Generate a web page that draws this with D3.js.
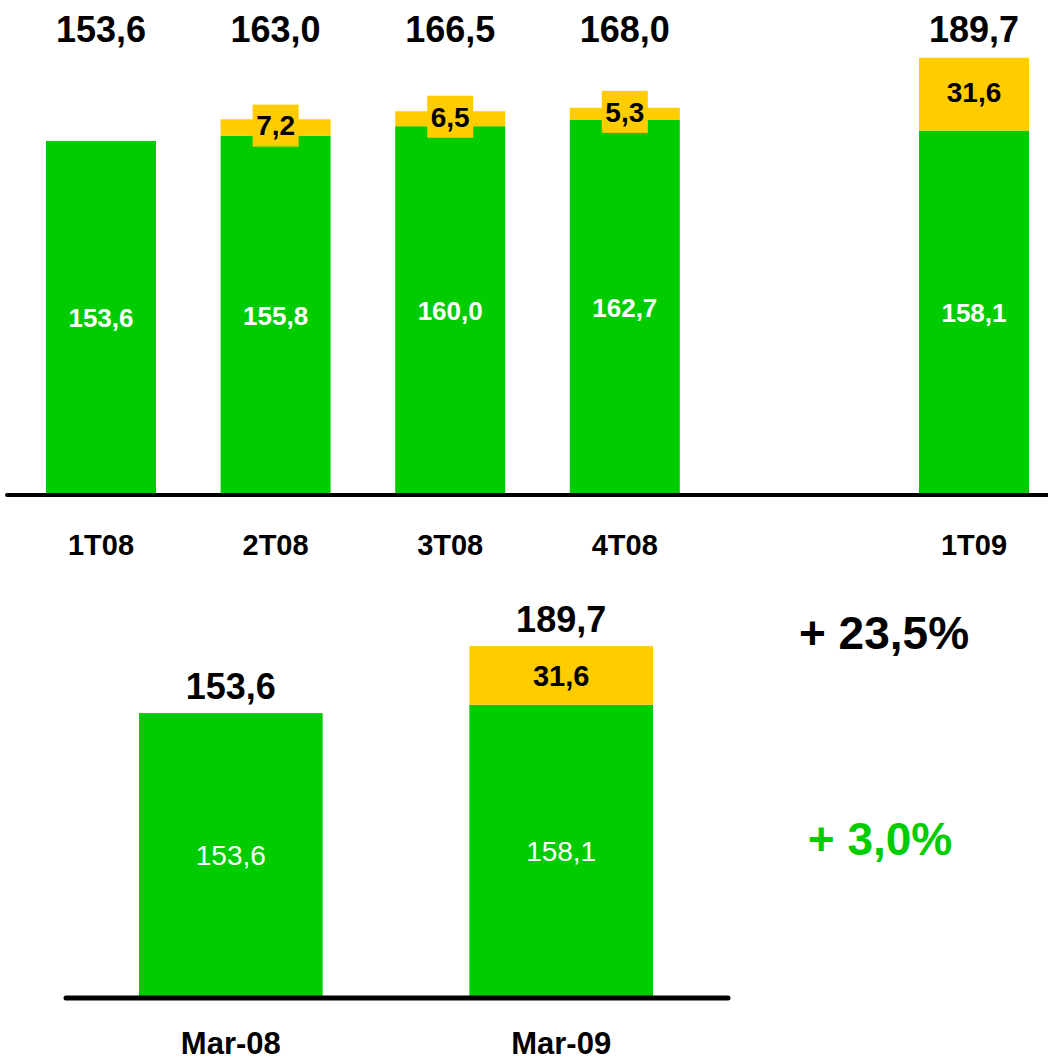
<!DOCTYPE html>
<html><head><meta charset="utf-8">
<script src="https://cdn.jsdelivr.net/npm/d3@7"></script>
<style>
html,body{margin:0;padding:0;background:#fff;}
svg{display:block;font-family:"Liberation Sans",Arial,sans-serif;}
</style></head>
<body>
<svg id="chart" width="1048" height="1061"></svg>
<script>
// ---- data ----
const categoriesTop = ["1T08", "2T08", "3T08", "4T08", "1T09"];
const slotsTop = ["1T08", "2T08", "3T08", "4T08", "gap", "1T09"];
const baseTop = [153.6, 155.8, 160.0, 162.7, 158.1];
const extraTop = [0, 7.2, 6.5, 5.3, 31.6];
const totalTop = [153.6, 163.0, 166.5, 168.0, 189.7];

const categoriesBottom = ["Mar-08", "Mar-09"];
const baseBottom = [153.6, 158.1];
const extraBottom = [0, 31.6];
const totalBottom = [153.6, 189.7];

const growthLabels = ["+ 23,5%", "+ 3,0%"];

(function () {
// ---- styles ----
const GREEN = "#00CC00", YELLOW = "#FFCC00";
const loc = d3.formatLocale({decimal: ",", thousands: ".", grouping: [3], currency: ["", ""]});
const fmt = loc.format(".1f");

const svg = d3.select("#chart");

// ================= TOP PANEL =================
const xTop = d3.scaleBand().domain(slotsTop).range([46, 1029]).paddingInner(0.37).paddingOuter(0);
const yTop = d3.scaleLinear().domain([0, 200]).range([495, 34]);
const gTop = svg.append("g");

const topData = categoriesTop.map((c, i) => ({c, base: baseTop[i], extra: extraTop[i], total: totalTop[i]}));

gTop.selectAll("rect.g").data(topData).join("rect")
  .attr("x", d => xTop(d.c)).attr("width", xTop.bandwidth())
  .attr("y", d => yTop(d.base)).attr("height", d => yTop(0) - yTop(d.base))
  .attr("fill", GREEN);
gTop.selectAll("rect.y").data(topData.filter(d => d.extra > 0)).join("rect")
  .attr("x", d => xTop(d.c)).attr("width", xTop.bandwidth())
  .attr("y", d => yTop(d.base + d.extra)).attr("height", d => yTop(d.base) - yTop(d.base + d.extra))
  .attr("fill", YELLOW);

gTop.append("line").attr("x1", 7).attr("x2", 1048).attr("y1", yTop(0)).attr("y2", yTop(0))
  .attr("stroke", "#000").attr("stroke-width", 4).attr("stroke-linecap", "round");

gTop.selectAll("text.in").data(topData).join("text")
  .attr("x", d => xTop(d.c) + xTop.bandwidth() / 2)
  .attr("y", d => (yTop(0) + yTop(d.base)) / 2)
  .attr("dy", "0.35em").attr("text-anchor", "middle")
  .attr("fill", "#fff").attr("font-weight", "bold").attr("font-size", 26)
  .text(d => fmt(d.base));

const yl = gTop.selectAll("g.yl").data(topData.filter(d => d.extra > 0)).join("g")
  .attr("transform", d => `translate(${xTop(d.c) + xTop.bandwidth() / 2},${(yTop(d.base) + yTop(d.base + d.extra)) / 2 - 2})`);
yl.append("rect").attr("x", -23).attr("y", -21).attr("width", 46).attr("height", 42).attr("fill", YELLOW);
yl.append("text").attr("dy", "0.35em").attr("text-anchor", "middle")
  .attr("font-weight", "bold").attr("font-size", 28).attr("fill", "#000")
  .text(d => fmt(d.extra));

gTop.selectAll("text.tot").data(topData).join("text")
  .attr("x", d => xTop(d.c) + xTop.bandwidth() / 2).attr("y", 42)
  .attr("text-anchor", "middle").attr("font-weight", "bold").attr("font-size", 36)
  .text(d => fmt(d.total));

gTop.selectAll("text.cat").data(topData).join("text")
  .attr("x", d => xTop(d.c) + xTop.bandwidth() / 2).attr("y", 555)
  .attr("text-anchor", "middle").attr("font-weight", "bold").attr("font-size", 29)
  .text(d => d.c);

// ================= BOTTOM PANEL =================
const xBot = d3.scaleBand().domain(categoriesBottom).range([139, 653]).paddingInner(0.444).paddingOuter(0);
const yBot = d3.scaleLinear().domain([0, 200]).range([998, 627]);
const gBot = svg.append("g");
const botData = categoriesBottom.map((c, i) => ({c, base: baseBottom[i], extra: extraBottom[i], total: totalBottom[i]}));

gBot.selectAll("rect.g").data(botData).join("rect")
  .attr("x", d => xBot(d.c)).attr("width", xBot.bandwidth())
  .attr("y", d => yBot(d.base)).attr("height", d => yBot(0) - yBot(d.base))
  .attr("fill", GREEN);
gBot.selectAll("rect.y").data(botData.filter(d => d.extra > 0)).join("rect")
  .attr("x", d => xBot(d.c)).attr("width", xBot.bandwidth())
  .attr("y", d => yBot(d.base + d.extra)).attr("height", d => yBot(d.base) - yBot(d.base + d.extra))
  .attr("fill", YELLOW);

gBot.append("line").attr("x1", 66).attr("x2", 728).attr("y1", yBot(0)).attr("y2", yBot(0))
  .attr("stroke", "#000").attr("stroke-width", 5).attr("stroke-linecap", "round");

gBot.selectAll("text.in").data(botData).join("text")
  .attr("x", d => xBot(d.c) + xBot.bandwidth() / 2)
  .attr("y", d => (yBot(0) + yBot(d.base)) / 2)
  .attr("dy", "0.35em").attr("text-anchor", "middle")
  .attr("fill", "#fff").attr("font-size", 28)
  .text(d => fmt(d.base));

gBot.selectAll("text.yl").data(botData.filter(d => d.extra > 0)).join("text")
  .attr("x", d => xBot(d.c) + xBot.bandwidth() / 2)
  .attr("y", d => (yBot(d.base) + yBot(d.base + d.extra)) / 2)
  .attr("dy", "0.35em").attr("text-anchor", "middle")
  .attr("font-weight", "bold").attr("font-size", 29)
  .text(d => fmt(d.extra));

gBot.selectAll("text.tot").data(botData).join("text")
  .attr("x", d => xBot(d.c) + xBot.bandwidth() / 2)
  .attr("y", d => yBot(d.total) - 14)
  .attr("text-anchor", "middle").attr("font-weight", "bold").attr("font-size", 36)
  .text(d => fmt(d.total));

gBot.selectAll("text.cat").data(botData).join("text")
  .attr("x", d => xBot(d.c) + xBot.bandwidth() / 2).attr("y", 1054)
  .attr("text-anchor", "middle").attr("font-weight", "bold").attr("font-size", 31)
  .text(d => d.c);

svg.append("text").attr("x", 884).attr("y", 649).attr("text-anchor", "middle")
  .attr("font-weight", "bold").attr("font-size", 46).attr("fill", "#000").text(growthLabels[0]);
svg.append("text").attr("x", 880).attr("y", 855).attr("text-anchor", "middle")
  .attr("font-weight", "bold").attr("font-size", 46).attr("fill", GREEN).text(growthLabels[1]);
})();
</script>
</body></html>
